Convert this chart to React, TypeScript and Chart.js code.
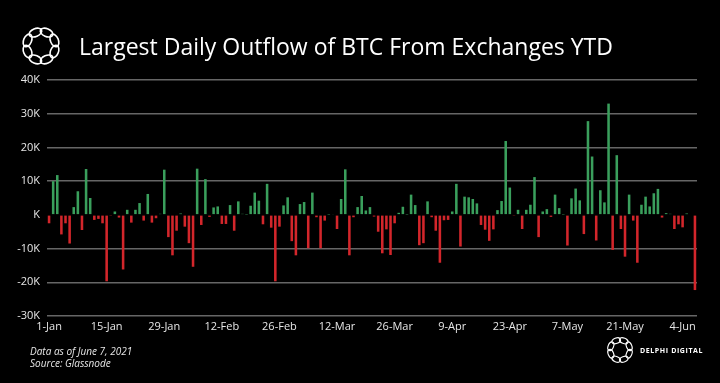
import React, { useEffect, useRef } from 'react';
import { Chart, registerables } from 'chart.js';

Chart.register(...registerables);

// Net daily exchange flow of BTC, in BTC (negative = outflow), 1-Jan-2021 .. 7-Jun-2021
const netFlowBTC: number[] = [
  -2500, 10000, 11800, -5800, -2500, -8500, 2300, 7000, -4500, 13600,
  5000, -1500, -1200, -2500, -19700, -300, 1000, -800, -16200, 1500,
  -2300, 1500, 3500, -1700, 6200, -2300, -1000, 300, 13400, -6600,
  -12000, -4700, 400, -3500, -8400, -15400, 13700, -3000, 10600, -600,
  2200, 2500, -2700, -2700, 2900, -4700, 4000, 300, 100, 2700,
  6600, 4200, -2800, 9200, -3800, -19700, -3500, 2800, 5200, -7800,
  -12000, 3200, 3800, -9900, 6600, -700, -9900, -1700, 100, 200,
  -4200, 4700, 13500, -12000, -700, 2300, 5600, 1300, 2300, -500,
  -5000, -11400, -4300, -11900, -2500, 600, 2400, 100, 6000, 2900,
  -9000, -8400, 4000, -700, -4700, -14200, -1600, -1500, 1000, 9200,
  -9400, 5400, 5200, 4700, 3400, -3000, -4400, -7700, -4300, 1400,
  4100, 21900, 8100, -300, 1500, -4200, 1500, 3000, 11200, -6600,
  1000, 1700, -600, 6000, 2000, 100, -9100, 4900, 7800, 4300,
  -5700, 27800, 17300, -7600, 7300, 3700, 33000, -10400, 17700, -4200,
  -12400, 6000, -1700, -14200, 3000, 5400, 2500, 6400, 7700, -800,
  500, 300, -4200, -2800, -3700, 400, 0, -22300,
];

const MONTHS = ['Jan', 'Feb', 'Mar', 'Apr', 'May', 'Jun', 'Jul'];
const TICK_EVERY_DAYS = 14;
const Y_MIN = -30000;
const Y_MAX = 40000;
const Y_STEP = 10000;

const TITLE = 'Largest Daily Outflow of BTC From Exchanges YTD';
const NOTE_LINE_1 = 'Data as of June 7, 2021';
const NOTE_LINE_2 = 'Source: Glassnode';
const BRAND = 'DELPHI DIGITAL';

const GREEN = '#3a9f5c';
const RED = '#d3262b';

function buildDayLabels(n: number): string[] {
  const out: string[] = [];
  for (let i = 0; i < n; i++) {
    const d = new Date(Date.UTC(2021, 0, 1 + i));
    out.push(`${d.getUTCDate()}-${MONTHS[d.getUTCMonth()]}`);
  }
  return out;
}

const Logo = ({ size, x, y, sw }: { size: number; x: number; y: number; sw: number }) => {
  const n = 8;
  const R = size * 0.33;
  const items = [];
  for (let i = 0; i < n; i++) {
    const a = (i * 360) / n + 22.5;
    items.push(
      <ellipse
        key={i}
        cx={0}
        cy={-R}
        rx={size * 0.15}
        ry={size * 0.09}
        transform={`rotate(${a})`}
        fill="none"
        stroke="#fff"
        strokeWidth={sw}
      />
    );
  }
  return (
    <svg
      width={size}
      height={size}
      viewBox={`${-size / 2} ${-size / 2} ${size} ${size}`}
      style={{ position: 'absolute', left: x - size / 2, top: y - size / 2 }}
    >
      {items}
    </svg>
  );
};

export default function App() {
  const canvasRef = useRef<HTMLCanvasElement | null>(null);

  useEffect(() => {
    document.body.style.margin = '0';
    document.body.style.background = '#000';
    const canvas = canvasRef.current;
    if (!canvas) return;
    const labels = buildDayLabels(netFlowBTC.length);
    const chart = new Chart(canvas, {
      type: 'bar',
      data: {
        labels,
        datasets: [
          {
            data: netFlowBTC,
            backgroundColor: (ctx: any) => ((ctx.raw ?? 0) >= 0 ? GREEN : RED),
            borderWidth: 0,
            barPercentage: 0.62,
            categoryPercentage: 1,
          },
        ],
      },
      options: {
        responsive: false,
        animation: false,
        devicePixelRatio: 1,
        layout: { padding: { top: 80, right: 23, bottom: 47, left: 0 } },
        plugins: { legend: { display: false }, tooltip: { enabled: false } },
        scales: {
          x: {
            grid: { display: false, drawTicks: false },
            border: { display: false },
            afterFit: (s: any) => {
              s.height = 20;
            },
            ticks: {
              autoSkip: false,
              maxRotation: 0,
              minRotation: 0,
              padding: 4,
              color: '#e6e6e6',
              font: { family: 'Open Sans', size: 11 },
              callback: (_v: any, i: number) => (i % TICK_EVERY_DAYS === 0 ? labels[i] : ''),
            },
          },
          y: {
            min: Y_MIN,
            max: Y_MAX,
            afterFit: (s: any) => {
              s.width = 47;
            },
            border: { display: false },
            grid: {
              drawTicks: false,
              lineWidth: 1.5,
              color: (ctx: any) => (ctx.tick && ctx.tick.value === 0 ? 'rgba(0,0,0,0)' : '#666666'),
            },
            ticks: {
              stepSize: Y_STEP,
              padding: 7,
              color: '#e6e6e6',
              font: { family: 'Open Sans', size: 11 },
              callback: (v: any) => (Number(v) === 0 ? 'K' : `${Number(v) / 1000}K`),
            },
          },
        },
      },
    });
    return () => chart.destroy();
  }, []);

  return (
    <div
      style={{
        position: 'fixed',
        left: 0,
        top: 0,
        width: 720,
        height: 383,
        background: '#000',
        overflow: 'hidden',
        fontFamily: 'Open Sans, sans-serif',
        color: '#fff',
      }}
    >
      <canvas ref={canvasRef} width={720} height={383} style={{ position: 'absolute', left: 0, top: 0, width: 720, height: 383 }} />
      <Logo size={44} x={41} y={46} sw={1.6} />
      <div
        style={{
          position: 'absolute',
          left: 79,
          top: 30,
          fontSize: 23,
          lineHeight: '32px',
          whiteSpace: 'nowrap',
          fontWeight: 400,
        }}
      >
        {TITLE}
      </div>
      <div
        style={{
          position: 'absolute',
          left: 30,
          top: 345,
          fontSize: 10,
          lineHeight: '12px',
          fontStyle: 'italic',
          color: '#e6e6e6',
        }}
      >
        <div>{NOTE_LINE_1}</div>
        <div>{NOTE_LINE_2}</div>
      </div>
      <Logo size={30} x={620} y={350} sw={1.1} />
      <div
        style={{
          position: 'absolute',
          left: 640,
          top: 345,
          fontSize: 7,
          lineHeight: '11px',
          fontWeight: 700,
          letterSpacing: 0.6,
          whiteSpace: 'nowrap',
        }}
      >
        {BRAND}
      </div>
    </div>
  );
}
